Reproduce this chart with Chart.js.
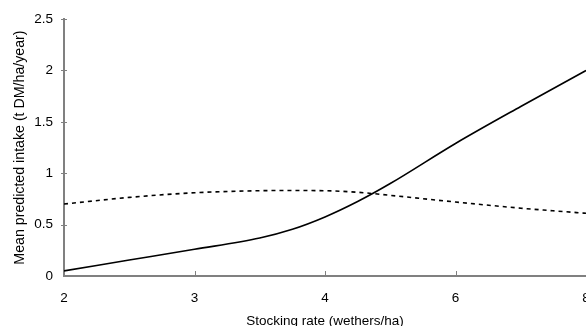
<!DOCTYPE html>
<html>
<head>
<meta charset="utf-8">
<script src="https://cdn.jsdelivr.net/npm/chart.js@4"></script>
<style>
  html, body { margin: 0; padding: 0; background: #fff; }
  #wrap { width: 586px; height: 326px; }
</style>
</head>
<body>
<div id="wrap"><canvas id="intakeChart"></canvas></div>
<script>
// tick labels on the x axis (equally spaced, not to scale)
const xTickLabels = [2, 3, 4, 6, 8];
// stocking rates the curves were read at
const stockingRates = [2, 2.5, 3, 3.5, 3.75, 4, 4.5, 5, 6, 7, 8];
const solidSeries = [0.05, 0.155, 0.26, 0.37, 0.455, 0.575, 0.725, 0.90, 1.29, 1.65, 2.0];
const dashedSeries = [0.70, 0.765, 0.81, 0.83, 0.832, 0.83, 0.815, 0.785, 0.72, 0.66, 0.61];
const yTicks = [0, 0.5, 1, 1.5, 2, 2.5];

const axisGrey = '#808080';
Chart.defaults.font.family = '"Liberation Sans", Arial, sans-serif';
Chart.defaults.font.size = 13.5;
Chart.defaults.color = '#000';

// place a stocking rate on the index-based x axis
function ratePos(rate) {
    for (let i = 0; i < xTickLabels.length - 1; i++) {
        const a = xTickLabels[i], b = xTickLabels[i + 1];
        if (rate <= b) return i + (rate - a) / (b - a);
    }
    return xTickLabels.length - 1;
}

function toPoints(values) {
    return stockingRates.map((r, i) => ({ x: ratePos(r), y: values[i] }));
}

// tick marks: x ticks point up into the plot, y ticks cross the axis
const axisTicks = {
    id: 'axisTicks',
    afterDatasetsDraw(chart) {
        const ctx = chart.ctx;
        const xs = chart.scales.x;
        const ys = chart.scales.y;
        const area = chart.chartArea;
        ctx.save();
        ctx.strokeStyle = axisGrey;
        ctx.lineWidth = 1;
        xTickLabels.forEach((lab, i) => {
            if (i === 0) return;
            const px = Math.round(xs.getPixelForValue(i)) + 0.5;
            ctx.beginPath();
            ctx.moveTo(px, area.bottom);
            ctx.lineTo(px, area.bottom - 5);
            ctx.stroke();
        });
        yTicks.forEach((v) => {
            if (v === 0) return;
            const py = Math.round(ys.getPixelForValue(v)) + 0.5;
            ctx.beginPath();
            ctx.moveTo(area.left - 3, py);
            ctx.lineTo(area.left + 3, py);
            ctx.stroke();
        });
        ctx.restore();
    }
};

new Chart(document.getElementById('intakeChart'), {
    type: 'line',
    data: {
        datasets: [{
            data: toPoints(solidSeries),
            borderColor: '#000',
            borderWidth: 1.6,
            pointRadius: 0,
            cubicInterpolationMode: 'monotone',
            fill: false
        }, {
            data: toPoints(dashedSeries),
            borderColor: '#000',
            borderWidth: 1.6,
            borderDash: [4, 4],
            pointRadius: 0,
            cubicInterpolationMode: 'monotone',
            fill: false
        }]
    },
    options: {
        responsive: true,
        maintainAspectRatio: false,
        animation: false,
        layout: { padding: { top: 19, right: 0, left: 0, bottom: 0 } },
        plugins: {
            legend: { display: false },
            tooltip: { enabled: false }
        },
        scales: {
            x: {
                type: 'linear',
                min: 0,
                max: xTickLabels.length - 1,
                grid: { display: false, drawTicks: false },
                border: { color: axisGrey, width: 2 },
                ticks: {
                    stepSize: 1,
                    padding: 14,
                    maxRotation: 0,
                    callback: (v) => xTickLabels[v]
                },
                title: {
                    display: true,
                    text: 'Stocking rate (wethers/ha)',
                    padding: { top: 0, bottom: -3 }
                },
                afterFit(scale) {
                    scale.height = 50;
                    scale.paddingRight = 0;
                }
            },
            y: {
                min: 0,
                max: 2.5,
                afterBuildTicks(scale) {
                    scale.ticks = yTicks.map(v => ({ value: v }));
                },
                grid: { display: false, drawTicks: false },
                border: { color: axisGrey, width: 2 },
                ticks: {
                    padding: 11,
                    callback: (v) => String(v)
                },
                title: {
                    display: true,
                    text: 'Mean predicted intake (t DM/ha/year)',
                    font: { size: 14.2 },
                    padding: { top: 12, bottom: 0 }
                },
                afterFit(scale) {
                    scale.width = 64;
                }
            }
        }
    },
    plugins: [axisTicks]
});
</script>
</body>
</html>
